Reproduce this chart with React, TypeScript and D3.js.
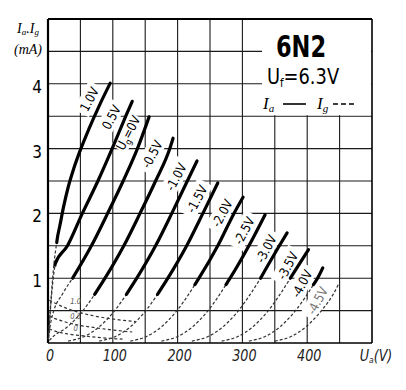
import React from "react";
import * as d3 from "d3";

type P = [number, number];

// Anode voltage ticks (V) and current ticks (mA)
const xTicks = [0, 100, 200, 300, 400];
const yTicks = [1, 2, 3, 4];

// Ia curves, [Ua (V), Ia (mA)], low end first
const curveP10: P[] = [[1, 0.15], [3, 0.45], [6, 0.85], [9, 1.2], [14, 1.59], [18.5, 1.82], [24, 2.1], [31, 2.4], [40, 2.7], [50, 2.98], [63, 3.3], [79, 3.66], [96, 4.01]];
const curveP05: P[] = [[0.5, 0.05], [2, 0.25], [4, 0.55], [7, 0.9], [11, 1.22], [30, 1.5], [53, 2.0], [77, 2.5], [99, 3.0], [120, 3.5], [130, 3.73]];
const curve0: P[] = [[1, 0.08], [4, 0.3], [9, 0.5], [22, 0.75], [38, 1.0], [67, 1.5], [92, 2.0], [116, 2.5], [138, 3.0], [156, 3.49]];
const curveM05: P[] = [[2, 0.04], [8, 0.1], [30, 0.25], [54, 0.5], [72, 0.75], [88, 1.0], [117, 1.5], [142, 2.0], [166, 2.5], [188, 3.0], [193, 3.16]];
const curveM10: P[] = [[31, 0.03], [56, 0.1], [79, 0.25], [103, 0.5], [121, 0.75], [137, 1.0], [166, 1.5], [191, 2.0], [215, 2.5], [230, 2.81]];
const curveM15: P[] = [[79, 0.03], [104, 0.1], [127, 0.25], [151, 0.5], [169, 0.75], [185, 1.0], [214, 1.5], [239, 2.0], [262, 2.47]];
const curveM20: P[] = [[127, 0.03], [152, 0.1], [175, 0.25], [199, 0.5], [217, 0.75], [233, 1.0], [262, 1.5], [287, 2.0], [301, 2.25]];
const curveM25: P[] = [[175, 0.03], [200, 0.1], [223, 0.25], [247, 0.5], [265, 0.75], [281, 1.0], [310, 1.5], [335, 1.98]];
const curveM30: P[] = [[222, 0.03], [247, 0.1], [270, 0.25], [294, 0.5], [312, 0.75], [328, 1.0], [357, 1.5], [369, 1.7]];
const curveM35: P[] = [[268, 0.03], [293, 0.1], [316, 0.25], [340, 0.5], [358, 0.75], [374, 1.0], [402, 1.44]];
const curveM40: P[] = [[310, 0.03], [335, 0.1], [358, 0.25], [382, 0.5], [400, 0.75], [416, 1.0], [424, 1.16]];
const curveM45: P[] = [[350, 0.03], [375, 0.1], [398, 0.25], [422, 0.5], [440, 0.75], [448, 0.9]];

// current (mA) below which each Ia curve is drawn thin in the scan
const solidDownTo = [1.55, 1.2, 1.0, 0.75, 0.75, 0.75, 0.9, 0.9, 1.0, 1.0, 0.9, 99];

const curveLabels = ["1.0V", "0.5V", "Ug=0V", "-0.5V", "-1.0V", "-1.5V", "-2.0V", "-2.5V", "-3.0V", "-3.5V", "-4.0V", "-4.5V"];

// Ig curves (dashed)
const igP10: P[] = [[2, 0.66], [10, 0.62], [25, 0.55], [45, 0.48], [70, 0.42], [100, 0.37], [135, 0.33]];
const igP05: P[] = [[2, 0.42], [10, 0.38], [25, 0.33], [45, 0.28], [70, 0.24], [100, 0.2], [130, 0.17]];
const ig0: P[] = [[2, 0.22], [12, 0.18], [30, 0.14], [55, 0.11], [85, 0.08], [115, 0.06]];
const igLabels = ["1.0", "0.5", "0"];

const allCurves = [curveP10, curveP05, curve0, curveM05, curveM10, curveM15, curveM20, curveM25, curveM30, curveM35, curveM40, curveM45];
const allIg = [igP10, igP05, ig0];

const FONT = "'DejaVu Sans', sans-serif";
const SERIF = "'Liberation Serif', 'DejaVu Serif', serif";

function split(pts: P[], thr: number): [P[], P[]] {
  const thin: P[] = [];
  const solid: P[] = [];
  pts.forEach((p) => (p[1] >= thr ? solid : thin).push(p));
  if (thin.length && solid.length) {
    const a = thin[thin.length - 1];
    const b = solid[0];
    const t = (thr - a[1]) / (b[1] - a[1]);
    const m: P = [a[0] + t * (b[0] - a[0]), thr];
    solid.unshift(m);
    thin.push(m);
  }
  return [thin, solid];
}

function LabelText({ s }: { s: string }) {
  if (s.startsWith("Ug")) {
    return (
      <>
        <tspan>U</tspan>
        <tspan fontSize="9" dy="3">g</tspan>
        <tspan dy="-3">{s.slice(2)}</tspan>
      </>
    );
  }
  return <tspan>{s}</tspan>;
}

export default function App() {
  const x = d3.scaleLinear().domain([0, 500]).range([48, 372]);
  const y = d3.scaleLinear().domain([0, 5]).range([343, 19]);
  const line = d3
    .line<P>()
    .x((d) => x(d[0]))
    .y((d) => y(d[1]))
    .curve(d3.curveMonotoneX);

  const vGrid = d3.range(50, 500, 50);
  const hGrid = d3.range(0.5, 5, 0.5);
  const ANG = -62;

  const labels = allCurves.map((pts, i) => {
    const top = pts[pts.length - 1];
    const cx = x(top[0]) - 21;
    const cy = y(top[1]) + 16;
    const s = curveLabels[i];
    const w = s.length * 5.6 + 4;
    return { cx, cy, s, w, faint: i === allCurves.length - 1 };
  });

  const sx = (px: number, py: number, k: number) => `translate(${px},${py}) scale(${k},1)`;

  return (
    <svg width={406} height={390} style={{ position: "absolute", left: 0, top: 0, background: "#fff" }}>
      <rect width={406} height={390} fill="#fff" />
      {/* grid */}
      <g stroke="#1a1a1a" strokeWidth={1.1}>
        {vGrid.map((v) => (
          <line key={"v" + v} x1={x(v)} x2={x(v)} y1={y(5)} y2={y(0)} />
        ))}
        {hGrid.map((v) => (
          <line key={"h" + v} x1={x(0)} x2={x(500)} y1={y(v)} y2={y(v)} />
        ))}
      </g>
      {/* legend box covering grid */}
      <rect x={262} y={y(5) + 1} width={x(500) - 263} height={y(3.5) - y(5) - 2} fill="#fff" />
      {/* label backgrounds */}
      {labels.map((l, i) => (
        <g key={"lb" + i} transform={`translate(${l.cx},${l.cy}) rotate(${ANG})`}>
          <rect x={-l.w / 2 - 3} y={-9} width={l.w + 6} height={17} fill="#fff" />
        </g>
      ))}
      {/* frame */}
      <g fill="none" stroke="#000">
        <line x1={x(0)} x2={x(500)} y1={y(5)} y2={y(5)} strokeWidth={2.2} />
        <line x1={x(0)} x2={x(0)} y1={y(5)} y2={y(0)} strokeWidth={2.2} />
        <line x1={x(500)} x2={x(500)} y1={y(5)} y2={y(0)} strokeWidth={1.6} />
        <line x1={x(0)} x2={x(500)} y1={y(0)} y2={y(0)} strokeWidth={1.6} />
      </g>
      {/* Ig curves */}
      <g fill="none" stroke="#333" strokeWidth={1.2} strokeDasharray="3 2.5">
        {allIg.map((pts, i) => (
          <path key={"ig" + i} d={line(pts) || ""} />
        ))}
      </g>
      {allIg.map((pts, i) => {
        const p = pts[2];
        return (
          <text key={"igl" + i} transform={sx(x(p[0]) + 6, y(p[1]) - 3, 0.85)} fontFamily={FONT} fontSize={8} fill="#555" fontStyle="italic">
            {igLabels[i]}
          </text>
        );
      })}
      {/* Ia curves */}
      {allCurves.map((pts, i) => {
        const [thin, solid] = split(pts, solidDownTo[i]);
        return (
          <g key={"c" + i} fill="none">
            {thin.length > 1 && (
              <path d={line(thin) || ""} stroke="#333" strokeWidth={1.2} strokeDasharray="3 2" />
            )}
            {solid.length > 1 && <path d={line(solid) || ""} stroke="#000" strokeWidth={3.2} strokeLinecap="round" />}
          </g>
        );
      })}
      {/* curve labels */}
      {labels.map((l, i) => (
        <text
          key={"lt" + i}
          transform={`translate(${l.cx},${l.cy}) rotate(${ANG}) scale(0.85,1)`}
          textAnchor="middle"
          dy="0.36em"
          fontFamily={FONT}
          fontSize={13}
          fill={l.faint ? "#777" : "#000"}
        >
          <LabelText s={l.s} />
        </text>
      ))}
      {/* x tick labels */}
      {xTicks.map((v) => (
        <text key={"xt" + v} transform={sx(x(v) + 2, 361, 0.85)} textAnchor="middle" fontFamily={FONT} fontSize={15} fontStyle="italic" fill="#222">
          {v}
        </text>
      ))}
      <text transform={sx(376, 361, 0.85)} textAnchor="middle" fontFamily={FONT} fontSize={15} fontStyle="italic" fill="#222">
        <tspan>U</tspan>
        <tspan fontSize={9} dy={2}>a</tspan>
        <tspan dy={-2}>(V)</tspan>
      </text>
      {/* y tick labels */}
      {yTicks.map((v) => (
        <text key={"yt" + v} transform={sx(37, y(v) + 9, 0.85)} textAnchor="middle" fontFamily={FONT} fontSize={18} fill="#000">
          {v}
        </text>
      ))}
      <text x={28} y={33} textAnchor="middle" fontFamily={SERIF} fontSize={14} fontStyle="italic">
        <tspan>I</tspan>
        <tspan fontSize={9} dy={2}>a</tspan>
        <tspan dy={-2}>.I</tspan>
        <tspan fontSize={9} dy={2}>g</tspan>
      </text>
      <text x={28} y={54} textAnchor="middle" fontFamily={SERIF} fontSize={14} fontStyle="italic">
        (mA)
      </text>
      {/* legend */}
      <text transform={sx(301, 57, 0.75)} textAnchor="middle" fontFamily={FONT} fontSize={30} fontWeight="bold">
        6N2
      </text>
      <text transform={sx(303, 84, 0.85)} textAnchor="middle" fontFamily={FONT} fontSize={21}>
        <tspan>U</tspan>
        <tspan fontSize={12} dy={3}>f</tspan>
        <tspan dy={-3}>=6.3V</tspan>
      </text>
      <text x={263} y={109} fontFamily={SERIF} fontSize={17} fontStyle="italic">
        <tspan>I</tspan>
        <tspan fontSize={11} dy={3}>a</tspan>
      </text>
      <line x1={283} x2={306} y1={104} y2={104} stroke="#000" strokeWidth={1.6} />
      <text x={317} y={109} fontFamily={SERIF} fontSize={17} fontStyle="italic">
        <tspan>I</tspan>
        <tspan fontSize={11} dy={3}>g</tspan>
      </text>
      <line x1={333} x2={357} y1={104} y2={104} stroke="#000" strokeWidth={1.6} strokeDasharray="5 3" />
    </svg>
  );
}
